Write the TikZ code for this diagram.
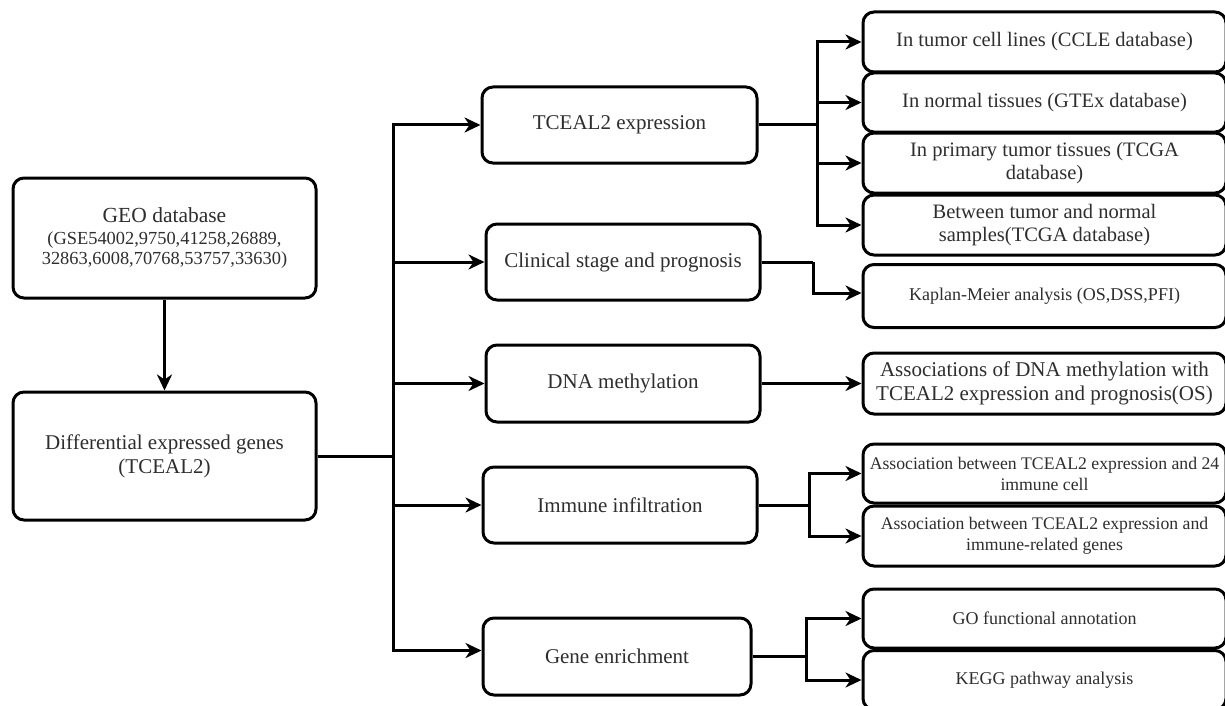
\documentclass[tikz,border=0pt]{standalone}
\usepackage{fontspec}
\setmainfont{Liberation Serif}
\usetikzlibrary{arrows.meta}
\begin{document}
\begin{tikzpicture}[x=1pt,y=-1pt,
  box/.style={draw=black,line width=3pt,rounded corners=11pt,fill=white,inner sep=0pt,align=center,text=black!82},
  big/.style={font=\fontsize{21}{24}\selectfont},
  rbig/.style={font=\fontsize{20.5}{23.5}\selectfont},
  med/.style={font=\fontsize{17.7}{21}\selectfont},
  sml/.style={font=\fontsize{18}{21}\selectfont},
  conn/.style={line width=3pt,black},
  arr/.style={conn,-{Stealth[length=16pt,width=15pt,inset=5pt]}}]
\useasboundingbox (0,0) rectangle (1225,706);
\fill[white] (0,0) rectangle (1225,706);
% left column
\node[box,minimum width=303pt,minimum height=120pt,font=\fontsize{18.4}{20}\selectfont] (geo) at (164.5,238)
  {{\fontsize{21.5}{24}\selectfont GEO database}\\[2pt](GSE54002,9750,41258,26889,\\32863,6008,70768,53757,33630)};
\node[box,big,minimum width=303pt,minimum height=128pt] (diff) at (164.5,456)
  {Differential expressed genes\\(TCEAL2)};
% middle column
\node[box,big,minimum width=275pt,minimum height=76pt] (expr) at (619.5,125) {TCEAL2 expression};
\node[box,big,minimum width=274pt,minimum height=76pt] (clin) at (623,262) {Clinical stage and prognosis};
\node[box,big,minimum width=274pt,minimum height=77pt] (dna) at (623,383.5) {DNA methylation};
\node[box,big,minimum width=274pt,minimum height=76pt] (imm) at (620,505) {Immune infiltration};
\node[box,big,minimum width=268pt,minimum height=77pt] (gene) at (617,656.5) {Gene enrichment};
% right column
\tikzset{rbox/.style={box,minimum width=363pt}}
\node[rbox,rbig,minimum height=60pt] (r1) at (1044.5,42) {In tumor cell lines (CCLE database)};
\node[rbox,rbig,minimum height=59pt] (r2) at (1044.5,102.5) {In normal tissues (GTEx database)};
\node[rbox,rbig,minimum height=60pt] (r3) at (1044.5,163) {In primary tumor tissues (TCGA\\database)};
\node[rbox,rbig,minimum height=60pt] (r4) at (1044.5,225) {Between tumor and normal\\samples(TCGA database)};
\node[rbox,sml,minimum height=63pt] (km) at (1044.5,296) {Kaplan-Meier analysis (OS,DSS,PFI)};
\node[rbox,minimum height=61pt,font=\fontsize{21}{24}\selectfont] (dnaA) at (1044.5,383.5) {Associations of DNA methylation with\\TCEAL2 expression and prognosis(OS)};
\node[rbox,med,minimum height=59pt] (im1) at (1044.5,473.5) {Association between TCEAL2 expression and 24\\immune cell};
\node[rbox,med,minimum height=60pt] (im2) at (1044.5,536) {Association between TCEAL2 expression and\\immune-related genes};
\node[rbox,sml,minimum height=59pt] (go) at (1044.5,618.5) {GO functional annotation};
\node[rbox,sml,minimum height=59pt] (kegg) at (1044.5,680) {KEGG pathway analysis};
% connectors
\draw[arr] (geo.south) -- (diff.north);
\draw[conn] (diff.east) -- (393,456) coordinate (j);
\draw[arr] (j) |- (expr.west);
\draw[arr] (j) |- (clin.west);
\draw[arr] (j) -- (dna.west -| j) -- (dna.west);
\draw[arr] (j) |- (imm.west);
\draw[arr] (j) |- ([yshift=6pt]gene.west);
\draw[conn] (expr.east) -- (817,125) coordinate (ej);
\draw[arr] (ej) |- (r1.west);
\draw[arr] (ej) |- (r2.west);
\draw[arr] (ej) |- (r3.west);
\draw[arr] (ej) |- (r4.west);
\draw[conn] (clin.east) -- (813,262) coordinate (cj);
\draw[arr] (cj) |- ([yshift=3pt]km.west);
\draw[arr] (dna.east) -- (dnaA.west);
\draw[conn] (imm.east) -- (809,505) coordinate (ij);
\draw[arr] (ij) |- (im1.west);
\draw[arr] (ij) |- (im2.west);
\draw[conn] (gene.east) -- (806,656.5) coordinate (gj);
\draw[arr] (gj) |- (go.west);
\draw[arr] (gj) |- (kegg.west);
\end{tikzpicture}
\end{document}
